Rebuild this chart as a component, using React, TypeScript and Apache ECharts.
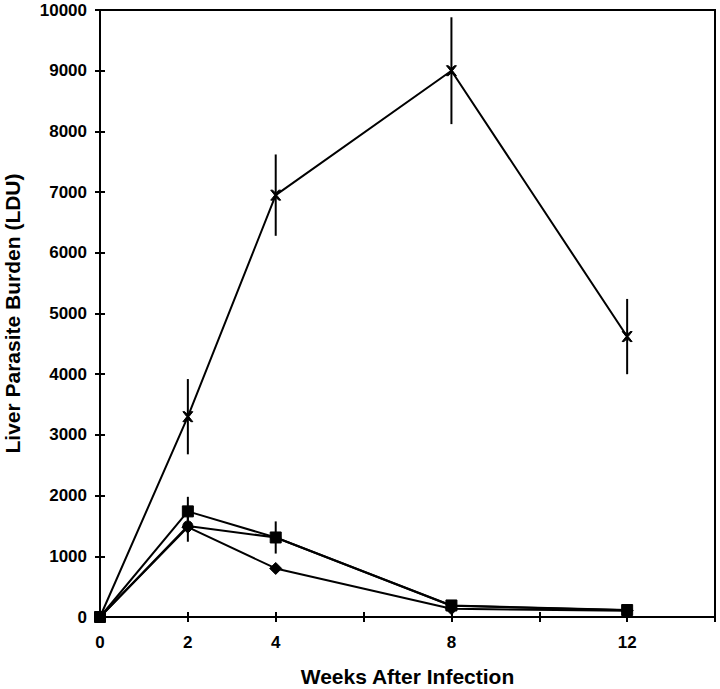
import React, { useEffect, useRef } from "react";
import * as echarts from "echarts";

const weeks = [0, 2, 4, 8, 12];
const xLabelsShown = [0, 2, 4, 8, 12];
const seriesCross = [0, 3300, 6950, 9000, 4620];
const errCross = [0, 620, 670, 880, 620];
const seriesSquare = [0, 1740, 1310, 190, 115];
const errSquare = [0, 240, 265, 0, 0];
const seriesCircle = [0, 1500, 1310, 185, 112];
const errCircle = [0, 260, 0, 0, 0];
const seriesDiamond = [0, 1480, 800, 135, 105];

const FONT = "Liberation Sans, Arial, sans-serif";

function pairs(vals: number[]) {
  return weeks.map((w, i) => [w, vals[i]]);
}
function errData(vals: number[], errs: number[]) {
  return weeks
    .map((w, i) => [w, vals[i] - errs[i], vals[i] + errs[i]])
    .filter((_, i) => errs[i] > 0);
}

function errSeries(vals: number[], errs: number[]) {
  return {
    type: "custom",
    xAxisIndex: 0,
    yAxisIndex: 0,
    data: errData(vals, errs),
    z: 3,
    renderItem: (params: any, api: any) => {
      const p1 = api.coord([api.value(0), api.value(1)]);
      const p2 = api.coord([api.value(0), api.value(2)]);
      return {
        type: "line",
        shape: { x1: p1[0], y1: p1[1], x2: p2[0], y2: p2[1] },
        style: { stroke: "#000", lineWidth: 2 },
      };
    },
  };
}

function lineSeries(vals: number[], symbol: string, size: number) {
  return {
    type: "line",
    xAxisIndex: 0,
    yAxisIndex: 0,
    data: pairs(vals),
    symbol,
    symbolSize: size,
    showAllSymbol: true,
    lineStyle: { color: "#000", width: 2 },
    itemStyle: { color: "#000", borderColor: "#000" },
    z: 4,
  };
}

const crossPath =
  "path://M0,0 L2,0 L5,3 L8,0 L10,0 L6,5 L10,10 L8,10 L5,7 L2,10 L0,10 L4,5 Z";

export default function App() {
  const ref = useRef<HTMLDivElement>(null);
  useEffect(() => {
    if (!ref.current) return;
    const chart = echarts.init(ref.current, undefined, { renderer: "svg" });
    const labelStyle = { color: "#000", fontFamily: FONT, fontSize: 17, fontWeight: "bold" };
    chart.setOption({
      animation: false,
      backgroundColor: "#fff",
      grid: {
        left: 100,
        right: 5,
        top: 10,
        bottom: 72,
        containLabel: false,
        outerBoundsMode: "none",
        show: true,
        borderColor: "#000",
        borderWidth: 2,
      },
      xAxis: [
        {
          type: "value",
          min: 0,
          max: 14,
          interval: 2,
          axisLine: { lineStyle: { color: "#000", width: 2 } },
          axisTick: { show: true, length: 5, lineStyle: { color: "#000", width: 2 } },
          splitLine: { show: false },
          axisLabel: {
            ...labelStyle,
            margin: 17,
            formatter: (v: number) => (xLabelsShown.includes(v) ? String(v) : ""),
          },
          name: "Weeks After Infection",
          nameLocation: "middle",
          nameGap: 49,
          nameTextStyle: { color: "#000", fontFamily: FONT, fontSize: 21, fontWeight: "bold" },
        },
        {
          type: "value",
          min: 0,
          max: 14,
          interval: 2,
          position: "bottom",
          axisLine: { show: false },
          axisTick: { show: true, inside: true, length: 5, lineStyle: { color: "#000", width: 2 } },
          splitLine: { show: false },
          axisLabel: { show: false },
        },
      ],
      yAxis: [
        {
          type: "value",
          min: 0,
          max: 10000,
          interval: 1000,
          axisLine: { show: true, lineStyle: { color: "#000", width: 2 } },
          axisTick: { show: true, length: 5, lineStyle: { color: "#000", width: 2 } },
          splitLine: { show: false },
          axisLabel: { ...labelStyle, margin: 13, formatter: (v: number) => String(v) },
          name: "Liver Parasite Burden (LDU)",
          nameLocation: "middle",
          nameGap: 77,
          nameTextStyle: { color: "#000", fontFamily: FONT, fontSize: 21, fontWeight: "bold" },
        },
        {
          type: "value",
          min: 0,
          max: 10000,
          interval: 1000,
          position: "left",
          axisLine: { show: false },
          axisTick: { show: true, inside: true, length: 5, lineStyle: { color: "#000", width: 2 } },
          splitLine: { show: false },
          axisLabel: { show: false },
        },
      ],
      series: [
        errSeries(seriesCross, errCross),
        errSeries(seriesSquare, errSquare),
        errSeries(seriesCircle, errCircle),
        lineSeries(seriesCross, crossPath, 10),
        lineSeries(seriesCircle, "circle", 10),
        lineSeries(seriesDiamond, "diamond", 12),
        lineSeries(seriesSquare, "rect", 11),
      ],
    });
    return () => chart.dispose();
  }, []);
  return (
    <div
      ref={ref}
      style={{ position: "absolute", left: 0, top: 0, width: 720, height: 689 }}
    />
  );
}
